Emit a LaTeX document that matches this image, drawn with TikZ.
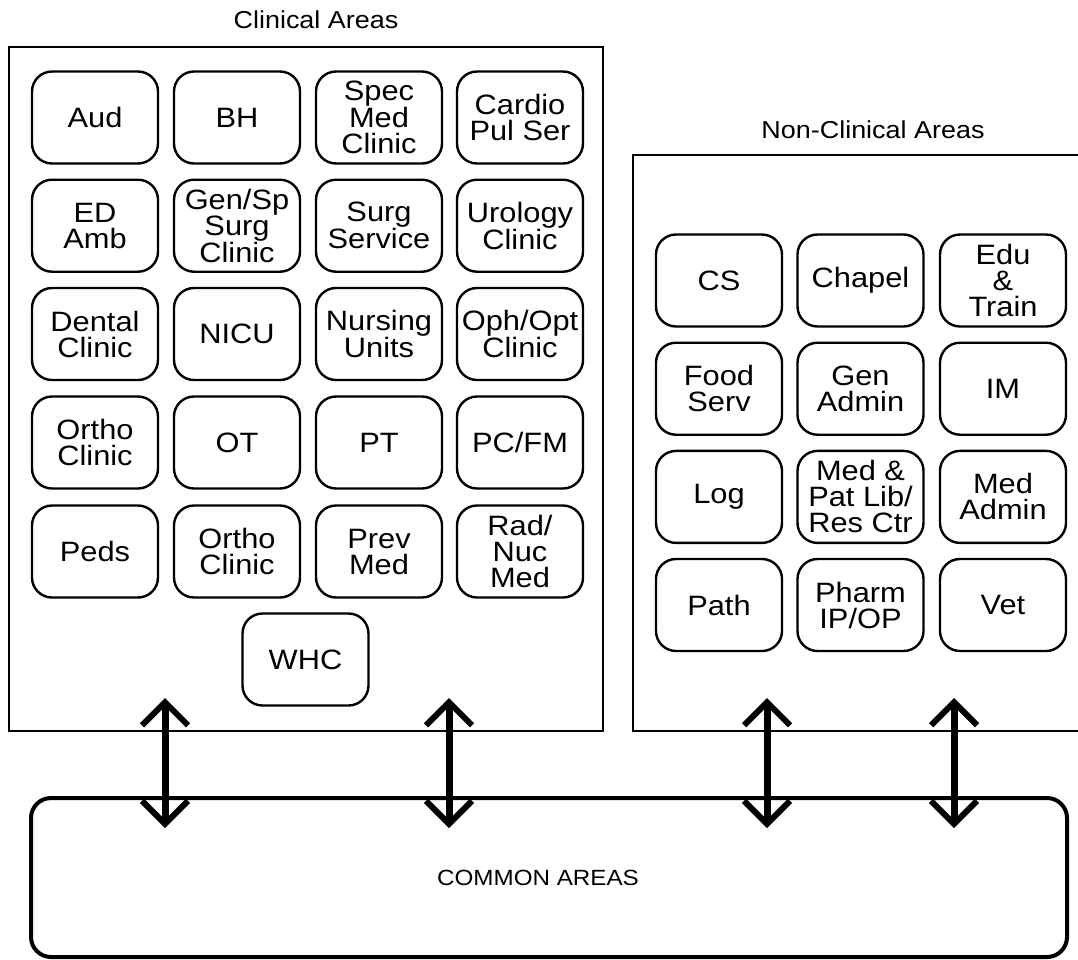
\documentclass[tikz,border=0pt]{standalone}
\usepackage{fontspec}
\setmainfont{Liberation Sans}[FakeStretch=1.1]
\usetikzlibrary{arrows.meta}
\begin{document}
\begin{tikzpicture}[x=1pt,y=-1pt,
  area/.style={draw, line width=2.4pt, rounded corners=20pt, minimum width=126pt,
    minimum height=92pt, inner sep=0pt, align=center, font=\fontsize{28}{26}\selectfont},
  frame/.style={draw, line width=2.8pt},
  areatitle/.style={inner sep=0pt, font=\fontsize{24.5}{28}\selectfont},
  barb/.tip={Straight Barb[length=23pt,width=46pt,line width=6pt,line cap=butt]},
  link/.style={line width=7pt, arrows={barb-barb}}
]
\useasboundingbox (0,0) rectangle (1078,959);
\fill[white] (0,0) rectangle (1078,959);

% titles
\node[areatitle] (clintitle) at (316,20) {Clinical Areas};
\node[areatitle] (nontitle) at (873,130) {Non-Clinical Areas};

% frames
\node[frame, minimum width=594pt, minimum height=684pt, inner sep=0pt] (clin) at (306,389) {};
\draw[frame] (1078,155) -- (633,155) -- (633,731) -- (1078,731);

% clinical areas
\node[area] (aud)   at (95,117.5)  {Aud};
\node[area] (bh)    at (237,117.5) {BH};
\node[area] (spec)  at (379,117.5) {Spec\\Med\\Clinic};
\node[area] (card)  at (520,117.5) {Cardio\\Pul Ser};

\node[area] (ed)    at (95,225.7)  {ED\\Amb};
\node[area] (gen)   at (237,225.7) {Gen/Sp\\Surg\\Clinic};
\node[area] (surg)  at (379,225.7) {Surg\\Service};
\node[area] (uro)   at (520,225.7) {Urology\\Clinic};

\node[area] (dent)  at (95,334)  {Dental\\Clinic};
\node[area] (nicu)  at (237,334) {NICU};
\node[area] (nurs)  at (379,334) {Nursing\\Units};
\node[area] (oph)   at (520,334) {Oph/Opt\\Clinic};

\node[area] (ortho) at (95,442.5)  {Ortho\\Clinic};
\node[area] (ot)    at (237,442.5) {OT};
\node[area] (pt)    at (379,442.5) {PT};
\node[area] (pcfm)  at (520,442.5) {PC/FM};

\node[area] (peds)  at (95,551.5)  {Peds};
\node[area] (ortho2) at (237,551.5) {Ortho\\Clinic};
\node[area] (prev)  at (379,551.5) {Prev\\Med};
\node[area] (rad)   at (520,551.5) {Rad/\\Nuc\\Med};

\node[area] (whc)   at (305.5,659.5) {WHC};

% non-clinical areas
\node[area] (cs)    at (719,280.5)  {CS};
\node[area] (chap)  at (860.5,280.5) {Chapel};
\node[area] (edu)   at (1003,280.5) {Edu\\\&\\Train};

\node[area] (food)  at (719,388.7)  {Food\\Serv};
\node[area] (gadm)  at (860.5,388.7) {Gen\\Admin};
\node[area] (im)    at (1003,388.7) {IM};

\node[area] (log)   at (719,496.9)  {Log};
\node[area] (lib)   at (860.5,496.9) {Med \&\\Pat Lib/\\Res Ctr};
\node[area] (madm)  at (1003,496.9) {Med\\Admin};

\node[area] (path)  at (719,605)  {Path};
\node[area] (pharm) at (860.5,605) {Pharm\\IP/OP};
\node[area] (vet)   at (1003,605) {Vet};

% common areas
\node[draw, line width=4pt, rounded corners=20pt, minimum width=1036pt,
  minimum height=159pt, inner sep=0pt] (common) at (549,877.5) {};
\node[inner sep=0pt, font=\fontsize{22}{26}\selectfont] (commonlabel) at (538,878) {COMMON AREAS};

% connectors
\coordinate (t1) at (165,698); \coordinate (b1) at (165,828);
\coordinate (t2) at (449,698); \coordinate (b2) at (449,828);
\coordinate (t3) at (767,698); \coordinate (b3) at (767,828);
\coordinate (t4) at (954,698); \coordinate (b4) at (954,828);
\draw[link] (t1) -- (b1);
\draw[link] (t2) -- (b2);
\draw[link] (t3) -- (b3);
\draw[link] (t4) -- (b4);
\end{tikzpicture}
\end{document}
